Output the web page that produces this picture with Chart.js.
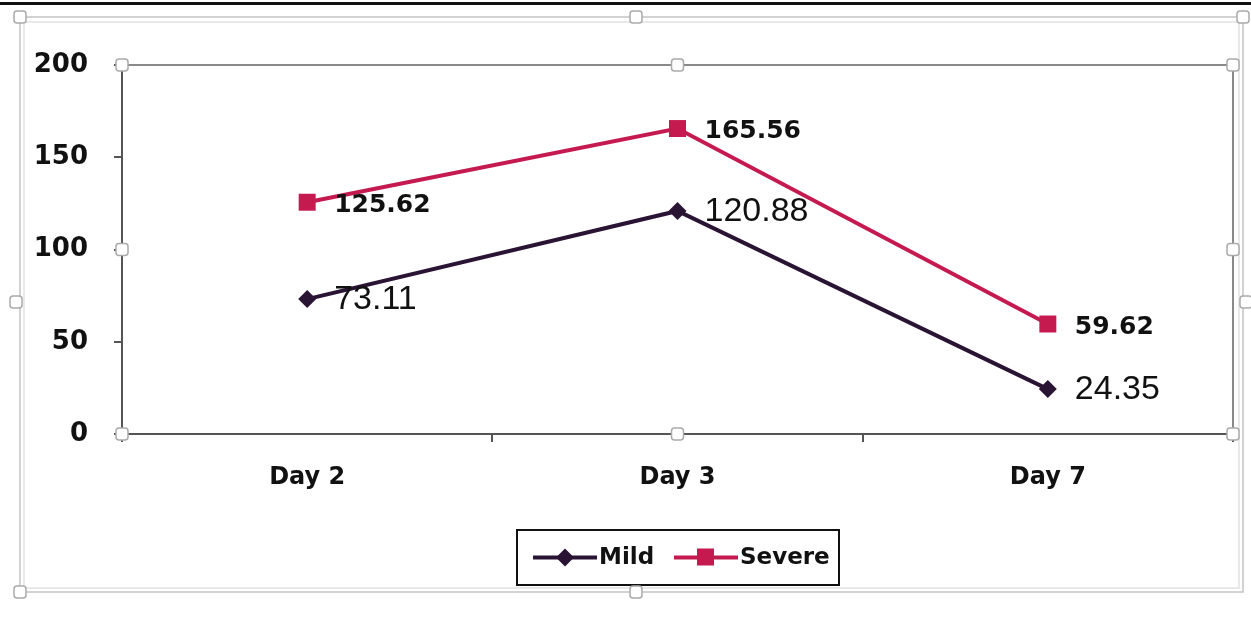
<!DOCTYPE html>
<html>
<head>
<meta charset="utf-8">
<script src="https://cdn.jsdelivr.net/npm/chart.js@4.4.1/dist/chart.umd.min.js"></script>
<style>
  html, body { margin: 0; padding: 0; background: #fff; }
  #wrap { width: 1251px; height: 631px; position: relative; }
</style>
</head>
<body>
<div id="wrap"><canvas id="lineChart" width="1251" height="631"></canvas></div>
<script>
// data
var days = ["Day 2", "Day 3", "Day 7"];
var mildValues = [73.11, 120.88, 24.35];
var severeValues = [125.62, 165.56, 59.62];
var yTicks = [0, 50, 100, 150, 200];

var mildColor = '#2a1433';
var severeColor = '#c41a50';
var axisColor = '#555';

function handle(ctx, x, y) {
    ctx.save();
    ctx.beginPath();
    ctx.roundRect(x - 6, y - 6, 12, 12, 3);
    ctx.fillStyle = '#fff';
    ctx.fill();
    ctx.lineWidth = 1.5;
    ctx.strokeStyle = '#aaa';
    ctx.stroke();
    ctx.restore();
}

/** frame, borders, labels, legend **/
var decor = {
    id: 'decor',
    beforeDraw: function (chart) {
        var ctx = chart.ctx;
        ctx.save();
        ctx.fillStyle = '#fff';
        ctx.fillRect(0, 0, chart.width, chart.height);
        // thick black line on top
        ctx.fillStyle = '#111';
        ctx.fillRect(0, 2, chart.width, 3);
        // outer chart border
        ctx.strokeStyle = '#c4c4c4';
        ctx.lineWidth = 1.5;
        ctx.strokeRect(20, 17, 1223, 575);
        ctx.strokeStyle = '#e2e2e2';
        ctx.strokeRect(24, 22, 1215, 566);
        ctx.restore();
    },
    beforeDatasetsDraw: function (chart) {
        var ctx = chart.ctx, a = chart.chartArea;
        ctx.save();
        ctx.strokeStyle = '#8a8a8a';
        ctx.lineWidth = 2;
        ctx.beginPath();
        ctx.moveTo(a.left, a.top);
        ctx.lineTo(a.right, a.top);
        ctx.lineTo(a.right, a.bottom);
        ctx.stroke();
        ctx.restore();
    },
    afterDraw: function (chart) {
        var ctx = chart.ctx, a = chart.chartArea;
        ctx.save();
        // value labels
        ctx.fillStyle = '#111';
        ctx.textAlign = 'left';
        ctx.textBaseline = 'middle';
        chart.getDatasetMeta(0).data.forEach(function (pt, i) {
            ctx.font = '34px "Liberation Sans", Arial, sans-serif';
            ctx.fillText(mildValues[i].toFixed(2), pt.x + 27, pt.y + 1);
        });
        chart.getDatasetMeta(1).data.forEach(function (pt, i) {
            ctx.font = 'bold 25px "DejaVu Sans", sans-serif';
            ctx.fillText(severeValues[i].toFixed(2), pt.x + 27, pt.y + 3);
        });

        // legend
        var lx = 517, ly = 530, lw = 322, lh = 55, cy = ly + lh / 2;
        ctx.fillStyle = '#fff';
        ctx.fillRect(lx, ly, lw, lh);
        ctx.strokeStyle = '#111';
        ctx.lineWidth = 2;
        ctx.strokeRect(lx, ly, lw, lh);

        ctx.lineWidth = 4;
        ctx.strokeStyle = mildColor;
        ctx.beginPath(); ctx.moveTo(533, cy); ctx.lineTo(597, cy); ctx.stroke();
        ctx.fillStyle = mildColor;
        ctx.beginPath();
        ctx.moveTo(565, cy - 9); ctx.lineTo(574, cy); ctx.lineTo(565, cy + 9); ctx.lineTo(556, cy);
        ctx.closePath(); ctx.fill();

        ctx.strokeStyle = severeColor;
        ctx.beginPath(); ctx.moveTo(674, cy); ctx.lineTo(738, cy); ctx.stroke();
        ctx.fillStyle = severeColor;
        ctx.fillRect(697, cy - 9, 17, 17);

        ctx.fillStyle = '#111';
        ctx.font = 'bold 23px "DejaVu Sans", sans-serif';
        ctx.textBaseline = 'middle';
        ctx.fillText('Mild', 599, cy + 1);
        ctx.fillText('Severe', 740, cy + 1);

        // selection handles
        var mx = (a.left + a.right) / 2, my = (a.top + a.bottom) / 2;
        [[a.left, a.top], [mx, a.top], [a.right, a.top],
         [a.left, my], [a.right, my],
         [a.left, a.bottom], [mx, a.bottom], [a.right, a.bottom],
         [20, 17], [636, 17], [1243, 17], [16, 302], [1246, 302],
         [20, 592], [636, 592]].forEach(function (p) { handle(ctx, p[0], p[1]); });
        ctx.restore();
    }
};

var lineData = {
    labels: days,
    datasets: [
        {
            label: 'Mild',
            data: mildValues,
            borderColor: mildColor,
            backgroundColor: mildColor,
            borderWidth: 4,
            pointStyle: 'rectRot',
            pointRadius: 9,
            pointHoverRadius: 9,
            pointBorderWidth: 0,
            tension: 0
        },
        {
            label: 'Severe',
            data: severeValues,
            borderColor: severeColor,
            backgroundColor: severeColor,
            borderWidth: 4,
            pointStyle: 'rect',
            pointRadius: 12,
            pointHoverRadius: 12,
            pointBorderWidth: 0,
            tension: 0
        }
    ]
};

var lineOptions = {
    responsive: false,
    animation: false,
    layout: { padding: { top: 65, right: 18, left: 0, bottom: 0 } },
    plugins: {
        legend: { display: false },
        tooltip: { enabled: false }
    },
    scales: {
        x: {
            offset: true,
            grid: { display: true, offset: true, drawOnChartArea: false, drawTicks: true, tickLength: 8, color: axisColor, lineWidth: 2 },
            border: { display: true, color: axisColor, width: 2 },
            ticks: { color: '#111', padding: 21, font: { family: '"DejaVu Sans", sans-serif', size: 24, weight: 'bold' } },
            afterFit: function (s) { s.height = 197; }
        },
        y: {
            min: 0,
            max: 200,
            afterBuildTicks: function (s) { s.ticks = yTicks.map(function (v) { return { value: v }; }); },
            grid: { display: true, drawOnChartArea: false, drawTicks: true, tickLength: 8, color: axisColor, lineWidth: 2 },
            border: { display: true, color: axisColor, width: 2 },
            ticks: { color: '#111', padding: 26, font: { family: '"DejaVu Sans", sans-serif', size: 26, weight: 'bold' } },
            afterFit: function (s) { s.width = 122; }
        }
    }
};

var ctx = document.getElementById('lineChart').getContext('2d');
new Chart(ctx, { type: 'line', data: lineData, options: lineOptions, plugins: [decor] });
</script>
</body>
</html>
